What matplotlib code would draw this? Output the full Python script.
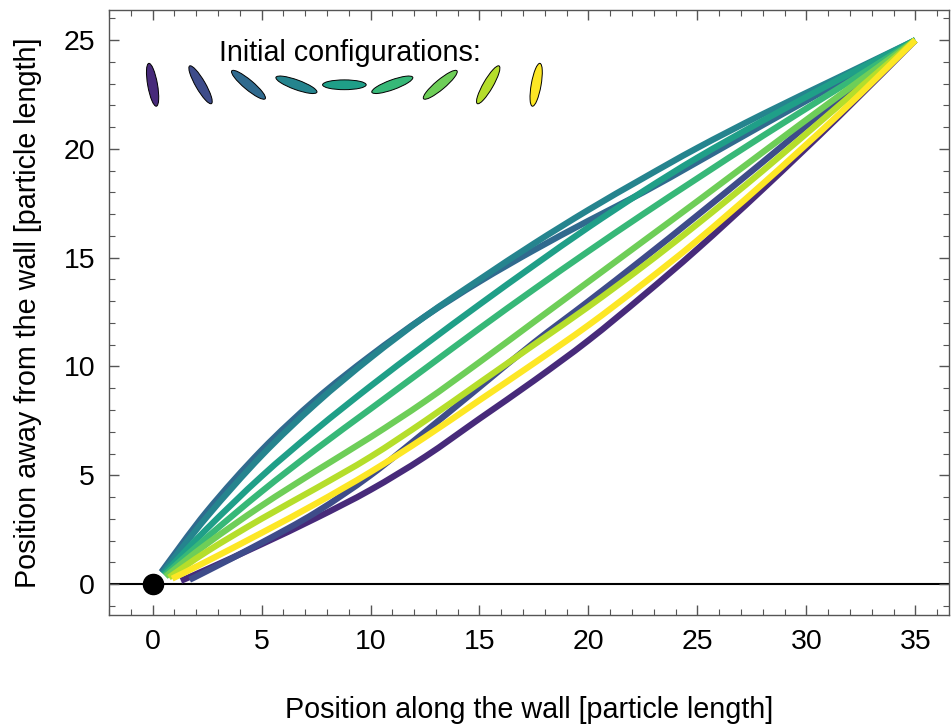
import numpy as np
import matplotlib
matplotlib.use("Agg")
from matplotlib import pyplot as plt
from matplotlib.patches import Ellipse, PathPatch
from matplotlib.path import Path
from matplotlib.ticker import MultipleLocator

plt.rcParams['font.family'] = ['Liberation Sans', 'DejaVu Sans']

# trajectories
start_x = [1.3, 1.7, 0.4, 0.45, 0.5, 0.55, 0.6, 0.75, 0.9]
start_y = [0.15, 0.2, 0.55, 0.5, 0.45, 0.4, 0.35, 0.3, 0.25]
xs = [2.5, 5, 7.5, 10, 12.5, 15, 17.5, 20, 22.5, 25, 28, 31.5, 35]
ys = [
    [0.68, 1.83, 3.03, 4.33, 5.85, 7.6, 9.35, 11.2, 13.25, 15.4, 18.15, 21.5, 25.0],
    [0.6, 1.9, 3.3, 5.0, 7.0, 9.05, 11.1, 13.0, 14.95, 16.95, 19.4, 22.3, 25.0],
    [3.35, 6.15, 8.5, 10.5, 12.3, 13.9, 15.35, 16.7, 18.0, 19.4, 21.1, 23.05, 25.0],
    [3.1, 5.9, 8.3, 10.4, 12.3, 14.0, 15.65, 17.2, 18.65, 20.05, 21.6, 23.3, 25.0],
    [2.55, 4.95, 7.1, 9.1, 11.0, 12.85, 14.65, 16.4, 18.05, 19.6, 21.3, 23.2, 25.0],
    [2.15, 4.25, 6.2, 8.05, 9.9, 11.75, 13.55, 15.3, 17.0, 18.65, 20.6, 22.8, 25.0],
    [1.85, 3.6, 5.2, 6.75, 8.4, 10.2, 12.05, 13.9, 15.75, 17.6, 19.85, 22.45, 25.0],
    [1.5, 3.0, 4.4, 5.85, 7.5, 9.25, 11.0, 12.75, 14.6, 16.55, 19.0, 22.0, 25.0],
    [1.05, 2.35, 3.7, 5.15, 6.75, 8.45, 10.15, 11.9, 13.8, 15.8, 18.4, 21.6, 25.0],
]

# initial orientations (degrees) of the little particles
angles = [100, 120, 140, 160, 180, 200, 220, 240, 260]
ell_x = [0, 2.2, 4.4, 6.6, 8.8, 11.0, 13.2, 15.4, 17.6]
ell_y = 22.95

colors = plt.cm.viridis(np.linspace(0.12, 1.0, 9))


def smooth_path(px, py):
    # cubic bezier segments through the points (Catmull-Rom tangents)
    p = np.column_stack([px, py])
    n = len(p)
    verts = [p[0]]
    codes = [Path.MOVETO]
    for k in range(n - 1):
        p0 = p[max(k - 1, 0)]
        p1, p2 = p[k], p[k + 1]
        p3 = p[min(k + 2, n - 1)]
        verts += [p1 + (p2 - p0) / 6, p2 - (p3 - p1) / 6, p2]
        codes += [Path.CURVE4] * 3
    return Path(verts, codes)


fig = plt.figure(figsize=(9.52, 7.26), dpi=100)
ax = fig.add_axes([0.1145, 0.153, 0.8825, 0.833])

ax.axhline(0, color='black', lw=1.5, zorder=1)
for i in range(9):
    ax.add_patch(PathPatch(smooth_path([start_x[i]] + xs, [start_y[i]] + ys[i]),
                           facecolor='none', edgecolor=colors[i], lw=4.5,
                           capstyle='butt', zorder=2))
ax.plot([0], [0], 'o', color='black', ms=14.5, zorder=3)

for i in range(9):
    ax.add_patch(Ellipse((ell_x[i], ell_y), 2.0, 0.45, angle=angles[i],
                         facecolor=colors[i], edgecolor='black', lw=0.7, zorder=4))
ax.text(9.05, 24.42, "Initial configurations:", fontsize=20.7, ha='center', va='center')

ax.set_xlim(-2, 36.55)
ax.set_ylim(-1.42, 26.38)
ax.xaxis.set_major_locator(MultipleLocator(5))
ax.xaxis.set_minor_locator(MultipleLocator(1))
ax.yaxis.set_major_locator(MultipleLocator(5))
ax.yaxis.set_minor_locator(MultipleLocator(1))
ax.tick_params(which='both', direction='in', top=True, right=True,
               labeltop=False, labelright=False, color='#555555')
ax.tick_params(which='major', length=7, width=1.0, labelsize=20.5, pad=10)
ax.tick_params(which='minor', length=4, width=0.8)
for s in ax.spines.values():
    s.set_color('#555555')
    s.set_linewidth(1.0)

ax.set_xlabel("Position along the wall [particle length]", fontsize=20.7, labelpad=30)
ax.set_ylabel("Position away from the wall [particle length]", fontsize=20.7, labelpad=15.5)

fig.savefig("out.png", dpi=100)
